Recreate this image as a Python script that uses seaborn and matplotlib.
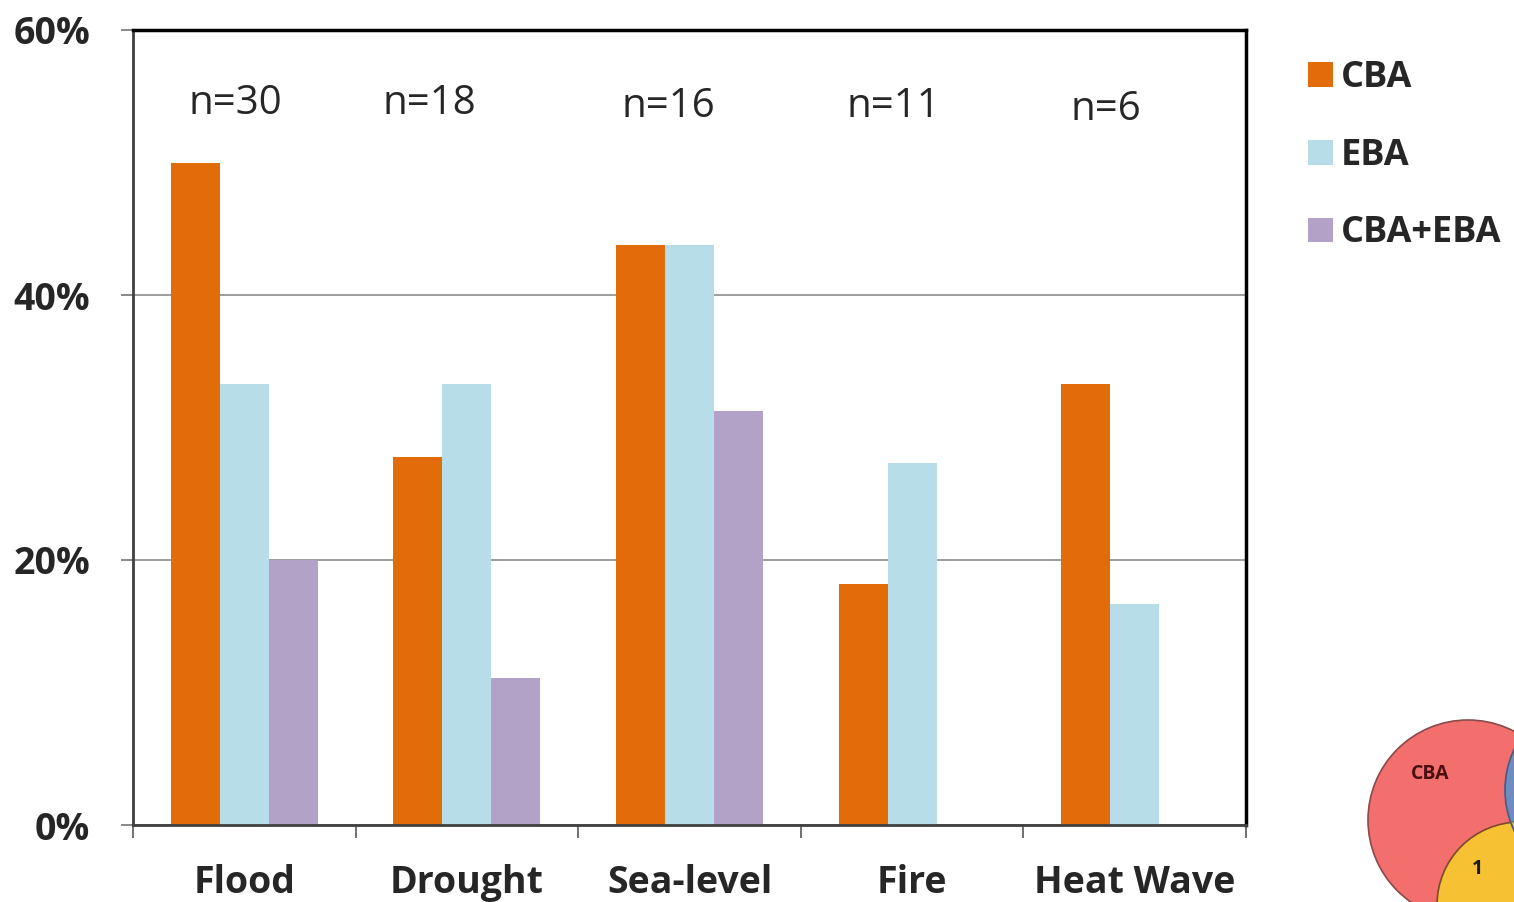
import matplotlib
matplotlib.use("Agg")
import matplotlib.pyplot as plt
from matplotlib.patches import Patch, Circle
import seaborn as sns
import pandas as pd

# Share of studies per hazard type, by adaptation approach (percent)
hazards = ["Flood", "Drought", "Sea-level", "Fire", "Heat Wave"]
approaches = ["CBA", "EBA", "CBA+EBA"]
cba = [50.0, 27.8, 43.75, 18.2, 33.3]
eba = [33.3, 33.3, 43.75, 27.3, 16.7]
cba_eba = [20.0, 11.1, 31.25, 0.0, 0.0]
sample_sizes = ["n=30", "n=18", "n=16", "n=11", "n=6"]
yticks = [0, 20, 40, 60]

colors = {"CBA": "#E36C0A", "EBA": "#B7DEE8", "CBA+EBA": "#B3A2C7"}

df = pd.DataFrame({
    "hazard": hazards * 3,
    "approach": [a for a in approaches for _ in hazards],
    "share": cba + eba + cba_eba,
})

sns.set_theme(style="white")
plt.rcParams["font.family"] = ["Open Sans", "DejaVu Sans"]

W, H = 1514, 902
fig = plt.figure(figsize=(W / 100, H / 100), dpi=100)
ax = fig.add_axes([133 / W, 1 - 825 / H, (1246 - 133) / W, (825 - 30) / H])

sns.barplot(data=df, x="hazard", y="share", hue="approach", order=hazards,
            hue_order=approaches, palette=colors, width=0.66, gap=0,
            saturation=1, linewidth=0, legend=False, ax=ax, zorder=2)

ax.set_xlim(-0.5, len(hazards) - 0.5)
ax.set_ylim(0, 60)
ax.set_yticks(yticks)
ax.set_yticklabels([f"{v}%" for v in yticks], fontsize=27, fontweight="bold")
ax.yaxis.grid(True, color="#8c8c8c", linewidth=1.2, zorder=0)
ax.set_axisbelow(True)

# category labels centred, tick marks on the category boundaries
ax.set_xticks(range(len(hazards)))
ax.set_xticklabels(hazards, fontsize=27, fontweight="bold")
ax.set_xticks([i - 0.5 for i in range(len(hazards) + 1)], minor=True)
ax.tick_params(axis="x", which="major", bottom=True, length=0, pad=28)
ax.tick_params(axis="x", which="minor", bottom=True, length=9, width=1.3,
               color="#666666", direction="out")
ax.tick_params(axis="y", left=True, length=9, width=1.3, color="#808080",
               direction="out", pad=22)
ax.set_xlabel("")
ax.set_ylabel("")

for side in ["top", "right"]:
    ax.spines[side].set_color("black")
    ax.spines[side].set_linewidth(2.5)
for side in ["left", "bottom"]:
    ax.spines[side].set_color("#404040")
    ax.spines[side].set_linewidth(2.0)

# sample-size annotations above each group
n_y = [54.4, 54.4, 54.2, 54.2, 54.0]
n_dx = [-0.04, -0.17, -0.095, -0.085, -0.13]
for i, (lab, yy, dx) in enumerate(zip(sample_sizes, n_y, n_dx)):
    ax.text(i + dx, yy, lab, ha="center", va="center", fontsize=29)

handles = [Patch(facecolor=colors[a], edgecolor="none") for a in approaches]
fig.legend(handles, approaches, loc="upper left",
           bbox_to_anchor=(1294 / W, 1 - 46 / H), frameon=False,
           prop={"size": 26, "weight": "bold"}, handlelength=0.67,
           handleheight=0.67, handletextpad=0.22, labelspacing=1.15,
           borderaxespad=0)

# partial Venn diagram in the lower-right corner
vax = fig.add_axes([0, 0, 1, 1], zorder=-1)
vax.set_xlim(0, W)
vax.set_ylim(H, 0)
vax.axis("off")
red = Circle((1468, 820), 100, facecolor="#F26F6E", edgecolor="#8a4a4a", linewidth=1.2)
blue = Circle((1600, 790), 95, facecolor="#6D8DC2", edgecolor="#4a5a80", linewidth=1.2)
yellow = Circle((1520, 905), 83, facecolor="#F6C233", edgecolor="#7a4a2a", linewidth=1.2)
for c in (red, blue, yellow):
    vax.add_patch(c)
green = Circle((1600, 790), 95, facecolor="#A9C25A", edgecolor="#4a5a80", linewidth=1.2)
vax.add_patch(green)
green.set_clip_path(yellow)
vax.text(1430, 774, "CBA", fontsize=14, fontweight="bold", color="#4a1010",
         ha="center", va="center")
vax.text(1477, 869, "1", fontsize=14, fontweight="bold", color="#1a1a1a",
         ha="center", va="center")

fig.savefig("out.png", dpi=100)
